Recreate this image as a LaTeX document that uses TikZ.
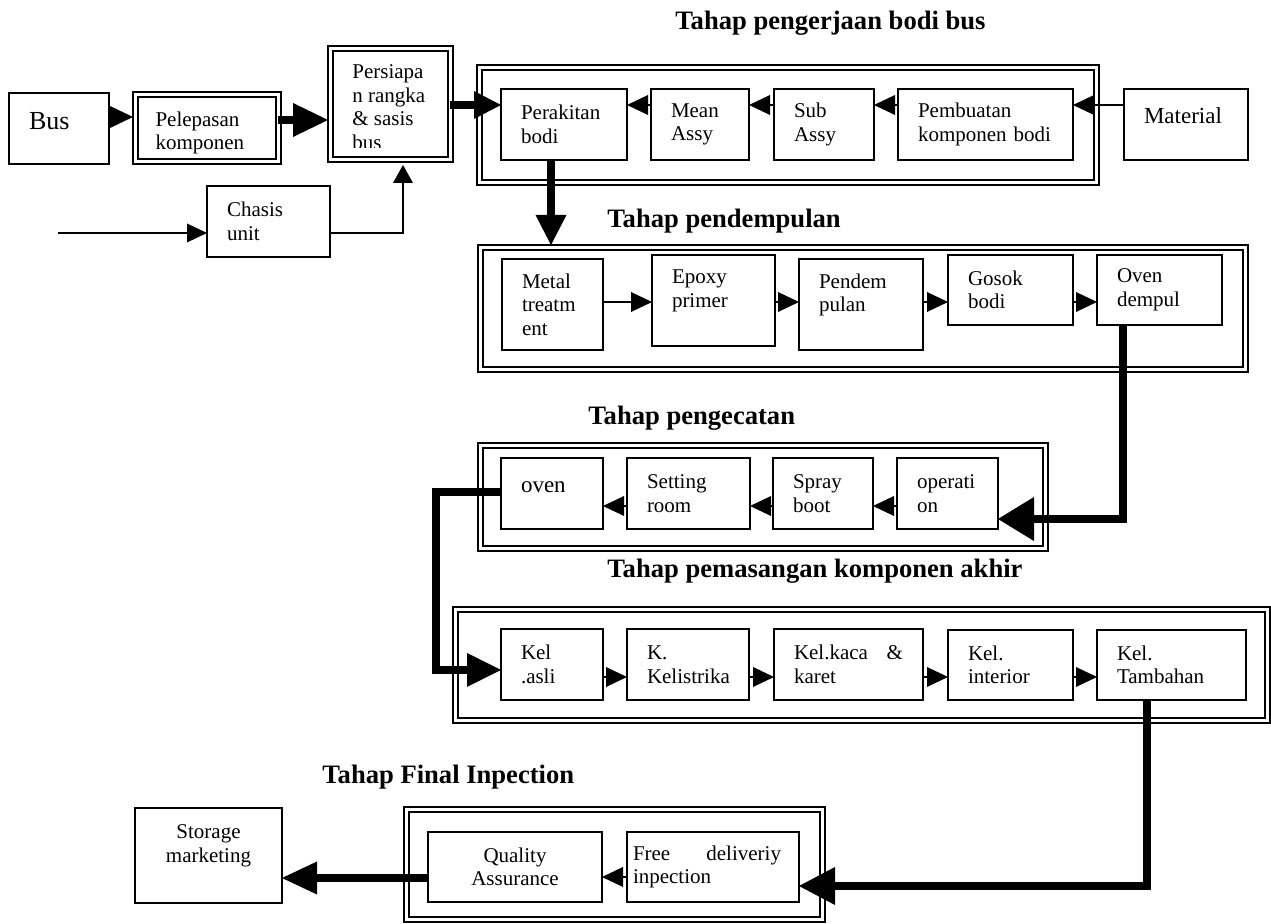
\documentclass[tikz,border=0pt]{standalone}
\usepackage{fontspec}
\setmainfont{Liberation Serif}
\usetikzlibrary{arrows.meta}

% process box: name, top-left corner and bottom-right corner in px, text
\newcommand\procbox[7][]{%
  \pgfmathsetmacro\bxw{(#5-#3)/2}%
  \pgfmathsetmacro\bxh{(#6-#4)/2}%
  \pgfmathsetmacro\bxt{(#5-#3)/2-20}%
  \node[box, minimum width=\bxw pt, minimum height=\bxh pt, text width=\bxt pt, #1] (#2) at (#3,#4) {#7};}
% stage frame with a double border
\newcommand\stagebox[5]{%
  \pgfmathsetmacro\bxw{(#4-#2)/2}%
  \pgfmathsetmacro\bxh{(#5-#3)/2}%
  \node[grp, minimum width=\bxw pt, minimum height=\bxh pt] (#1) at (#2,#3) {};}
% a line spread to a fixed width
\newcommand\spreadline[2]{\hbox to #1{#2}}

\begin{document}
\begin{tikzpicture}[x=0.5pt,y=-0.5pt,
  every node/.style={font=\fontsize{10.5}{11.75}\selectfont},
  box/.style={draw, line width=1.1pt, anchor=north west, inner xsep=10pt, inner ysep=0pt, outer sep=0pt, align=left},
  grp/.style={draw, double, double distance=1.5pt, line width=1pt, anchor=north west, inner sep=0pt, outer sep=0pt},
  dbl/.style={double, double distance=1.5pt, line width=1pt},
  ttl/.style={font=\fontsize{13.3}{15}\selectfont\bfseries, anchor=base west, inner sep=0pt},
  fine/.style={line width=1pt},
  heavy/.style={line width=4.3pt},
  small tip/.style={-{Triangle[length=10.5pt,width=10pt,line width=0pt]}},
]
\fill[white] (0,0) rectangle (1271,924);
\useasboundingbox (0,0) rectangle (1271,924);

% stage frames
\stagebox{g1}{479.5}{67.5}{1096}{182.5}
\stagebox{g2}{480}{247.5}{1245}{370}
\stagebox{g3}{480}{446}{1045.5}{548.5}
\stagebox{g4}{455.5}{609.5}{1267.5}{721}
\stagebox{g5}{406.5}{810}{822}{920}

% preparation
\procbox[font=\fontsize{13}{15}\selectfont, text depth=7.1pt]{bus}{9}{93}{109}{164}{Bus}
\procbox[dbl, text depth=9.65pt]{pel}{135.5}{95}{278}{162}{Pelepasan\\komponen}
\stagebox{pers}{330.5}{48.5}{450}{160}
\begin{scope}
  \clip (333,51) rectangle (447,148);
  \node[anchor=north west, inner sep=0pt, align=left] (perstxt) at (352,64.7) {Persiapa\\n rangka\\\& sasis\\bus};
\end{scope}
\procbox{chas}{207}{186}{330}{257}{Chasis\\unit}

% body work
\procbox{perak}{501}{89}{627}{160}{Perakitan\\bodi}
\procbox{mean}{651}{89}{749}{160}{Mean\\Assy}
\procbox{sub}{774}{89}{874}{160}{Sub\\Assy}
\procbox{pemb}{898}{89}{1073}{160}{Pembuatan\\komponen bodi}
\procbox[font=\fontsize{11.5}{13}\selectfont, text depth=9.35pt]{mat}{1124}{89}{1248}{160}{Material}

% filler
\procbox{metal}{502}{259}{603}{350}{Metal\\treatm\\ent}
\procbox{epoxy}{652}{255}{775}{346}{Epoxy\\primer\\\mbox{}}
\procbox{pend}{799}{259}{923}{350}{Pendem\\pulan\\\mbox{}}
\procbox{gosok}{948}{255}{1073}{325}{Gosok\\bodi}
\procbox{ovd}{1097}{255}{1222}{325}{Oven\\dempul}

% painting
\procbox[font=\fontsize{11.5}{13}\selectfont, text depth=6.8pt]{oven}{501}{458}{603}{529}{oven}
\procbox{sett}{627}{458}{750}{529}{Setting\\room}
\procbox{spray}{773}{458}{873}{529}{Spray\\boot}
\procbox{opr}{897}{458}{998}{529}{operati\\on}

% final components
\procbox{kasli}{501}{629}{603}{700}{Kel\\.asli}
\procbox{klis}{627}{629}{749}{700}{K.\\Kelistrika}
\procbox{kaca}{774}{629}{923}{700}{\spreadline{54.5pt}{Kel.kaca\hfill\&}\\karet}
\procbox{inter}{948}{630}{1073}{700}{Kel.\\interior}
\procbox{tamb}{1097}{630}{1246}{700}{Kel.\\Tambahan}

% final inspection
\procbox[align=center]{stor}{135}{808}{282}{903}{Storage\\marketing\\\mbox{}}
\procbox[align=center]{qa}{428}{832}{602}{902}{Quality\\Assurance}
\procbox[inner xsep=3pt, text width=80pt]{free}{627}{832}{799}{902}{\spreadline{74pt}{Free\hfill deliveriy}\\inpection}

% stage titles
\node[ttl] (t1) at (675,30) {Tahap pengerjaan bodi bus};
\node[ttl] (t2) at (607,228) {Tahap pendempulan};
\node[ttl] (t3) at (588,425) {Tahap pengecatan};
\node[ttl] (t4) at (607,578) {Tahap pemasangan komponen akhir};
\node[ttl] (t5) at (322,784) {Tahap Final Inpection};

% connectors: preparation
\coordinate (r1) at (0,117);
\draw[fine, -{Triangle[length=12pt,width=11.5pt,line width=0pt]}, shorten >=1.25pt] (bus.east |- r1) -- (pel.west |- r1);
\coordinate (r2) at (0,120);
\draw[heavy, -{Triangle[length=17.5pt,width=17pt,line width=0pt]}, shorten >=1.25pt] (pel.east |- r2) -- (pers.west |- r2);
\coordinate (cin) at (58,233);
\draw[fine, -{Triangle[length=10pt,width=9.5pt,line width=0pt]}] (cin) -- (chas.west |- cin);
\coordinate (cup) at (403,233);
\draw[fine, -{Triangle[length=9pt,width=10pt,line width=0pt]}, shorten >=2.5pt] (chas.east |- cup) -- (cup) -- (cup |- pers.south);

% connectors: body work
\coordinate (r3) at (0,105);
\draw[heavy, -{Triangle[length=13.5pt,width=14pt,line width=0pt]}] (pers.east |- r3) -- (perak.west |- r3);
\draw[fine, small tip] (mat.west |- r3) -- (pemb.east |- r3);
\draw[fine, small tip] (pemb.west |- r3) -- (sub.east |- r3);
\draw[fine, small tip] (sub.west |- r3) -- (mean.east |- r3);
\draw[fine, small tip] (mean.west |- r3) -- (perak.east |- r3);
\coordinate (dn) at (551,0);
\draw[heavy, -{Triangle[length=15pt,width=15.5pt,line width=0pt]}, shorten >=1.25pt] (perak.south -| dn) -- (g2.north -| dn);

% connectors: filler
\coordinate (r5) at (0,302);
\draw[fine, small tip] (metal.east |- r5) -- (epoxy.west |- r5);
\draw[fine, small tip] (epoxy.east |- r5) -- (pend.west |- r5);
\draw[fine, small tip] (pend.east |- r5) -- (gosok.west |- r5);
\draw[fine, small tip] (gosok.east |- r5) -- (ovd.west |- r5);
\coordinate (b1) at (1123,519);
\draw[heavy, -{Triangle[length=18pt,width=22pt,line width=0pt]}] (ovd.south -| b1) -- (b1) -- (opr.east |- b1);

% connectors: painting
\coordinate (r7) at (0,506);
\draw[fine, small tip] (opr.west |- r7) -- (spray.east |- r7);
\draw[fine, small tip] (spray.west |- r7) -- (sett.east |- r7);
\draw[fine, small tip] (sett.west |- r7) -- (oven.east |- r7);
\coordinate (b2) at (436,492);
\coordinate (b3) at (436,670);
\draw[heavy, -{Triangle[length=17pt,width=17pt,line width=0pt]}] (oven.west |- b2) -- (b2) -- (b3) -- (kasli.west |- b3);

% connectors: final components
\coordinate (r8) at (0,677);
\draw[fine, small tip] (kasli.east |- r8) -- (klis.west |- r8);
\draw[fine, small tip] (klis.east |- r8) -- (kaca.west |- r8);
\draw[fine, small tip] (kaca.east |- r8) -- (inter.west |- r8);
\draw[fine, small tip] (inter.east |- r8) -- (tamb.west |- r8);
\coordinate (b4) at (1147,886);
\draw[heavy, -{Triangle[length=18pt,width=19pt,line width=0pt]}] (tamb.south -| b4) -- (b4) -- (free.east |- b4);

% connectors: final inspection
\coordinate (r9) at (0,877);
\draw[fine, small tip] (free.west |- r9) -- (qa.east |- r9);
\coordinate (r10) at (0,878);
\draw[heavy, -{Triangle[length=17.5pt,width=16.5pt,line width=0pt]}] (qa.west |- r10) -- (stor.east |- r10);
\end{tikzpicture}
\end{document}
